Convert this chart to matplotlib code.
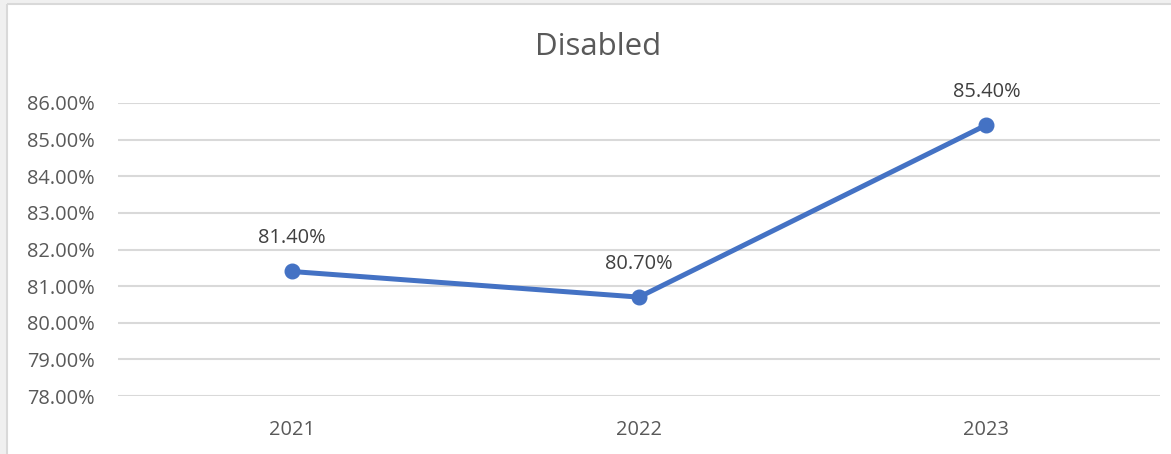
import matplotlib
matplotlib.use("Agg")
import matplotlib.pyplot as plt
from matplotlib.patches import Rectangle
from matplotlib.ticker import FuncFormatter

plt.rcParams['font.family'] = ['Open Sans', 'DejaVu Sans']

years = ["2021", "2022", "2023"]
rates = [81.40, 80.70, 85.40]
y_ticks = [78, 79, 80, 81, 82, 83, 84, 85, 86]

W, H = 1171, 454
fig = plt.figure(figsize=(W / 100, H / 100), dpi=100)
fig.patch.set_facecolor("#f0f0f0")

# background layer: white chart area with a thin grey border on the left and top
bg = fig.add_axes([0, 0, 1, 1], zorder=-10)
bg.set_xlim(0, W)
bg.set_ylim(H, 0)
bg.axis("off")
bg.add_patch(Rectangle((7, 4), W - 7, H - 4, facecolor="white", edgecolor="none"))
bg.plot([6.5, 6.5], [H, 3.5], color="#d9d9d9", lw=1.5, solid_capstyle="butt")
bg.plot([6.5, W], [3.5, 3.5], color="#d9d9d9", lw=1.5, solid_capstyle="butt")

ax = fig.add_axes([118 / W, 1 - 396 / H, (1160 - 118) / W, (396 - 103) / H])
ax.set_facecolor("none")

x = list(range(len(years)))
ax.plot(x, rates, color="#4472C4", lw=3.6, marker="o", markersize=10.5,
        solid_capstyle="round", zorder=3, clip_on=False)

for xi, v in zip(x, rates):
    ax.annotate(f"{v:.2f}%", (xi, v), xytext=(0, 24), textcoords="offset points",
                ha="center", va="center", fontsize=14.4, color="#404040")

ax.set_xlim(-0.5, len(years) - 0.5)
ax.set_ylim(y_ticks[0], y_ticks[-1])
ax.set_yticks(y_ticks)
ax.yaxis.set_major_formatter(FuncFormatter(lambda v, p: f"{v:.2f}%"))
ax.set_xticks(x)
ax.set_xticklabels(years)

ax.grid(axis="y", color="#d9d9d9", lw=1.5)
ax.set_axisbelow(True)
for s in ax.spines.values():
    s.set_visible(False)
ax.tick_params(axis="both", length=0, labelsize=14.4, labelcolor="#595959")
ax.tick_params(axis="y", pad=16.5)
ax.tick_params(axis="x", pad=17)

fig.text(598 / W, 1 - 47 / H, "Disabled", ha="center", va="center",
         fontsize=22.5, color="#595959")

fig.savefig("out.png", dpi=100, facecolor=fig.get_facecolor())
